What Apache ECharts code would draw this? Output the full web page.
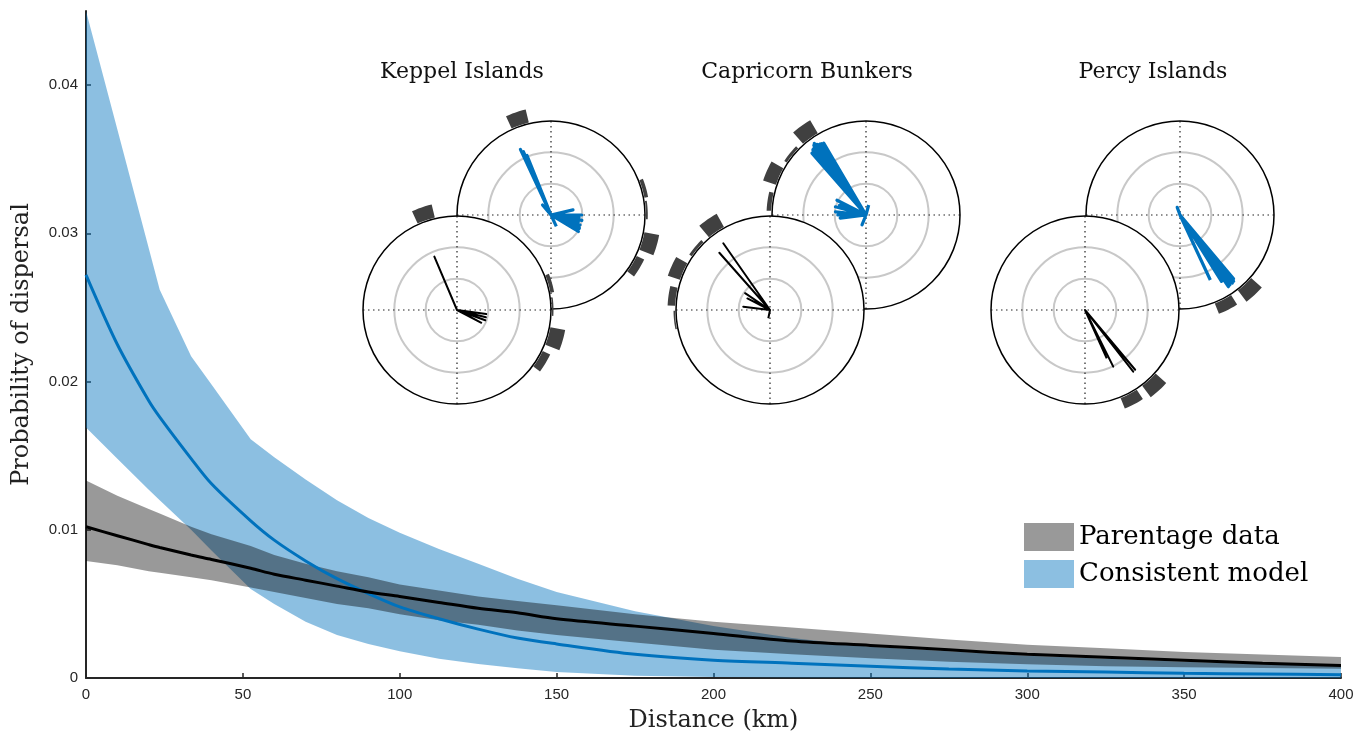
<!DOCTYPE html>
<html><head><meta charset="utf-8">
<script src="https://cdn.jsdelivr.net/npm/echarts@6/dist/echarts.min.js"></script>
<style>html,body{margin:0;padding:0;background:#fff}#c{width:1370px;height:738px}</style>
</head><body><div id="c"></div><script>
// ---------- main chart data (distance km -> probability) ----------
const distance      = [0, 10, 20, 23.5, 33.5, 40, 52.5, 60, 70, 80, 90, 100, 112.5, 125, 137.5, 150, 175, 200, 225, 250, 275, 300, 325, 350, 375, 400];
const parentUpper   = [0.01333, 0.0123, 0.0114, 0.0111, 0.0102, 0.0097, 0.0089, 0.0083, 0.0077, 0.0072, 0.0068, 0.0063, 0.0059, 0.0055, 0.0052, 0.0049, 0.0043, 0.0038, 0.0034, 0.0030, 0.0026, 0.00225, 0.0020, 0.00175, 0.00158, 0.00141];
const parentMean    = [0.0102, 0.0096, 0.0090, 0.0088, 0.0083, 0.0080, 0.0074, 0.0070, 0.0066, 0.0062, 0.0058, 0.0055, 0.0051, 0.0047, 0.0044, 0.0040, 0.0035, 0.0030, 0.0025, 0.0022, 0.0019, 0.0016, 0.0014, 0.0012, 0.0010, 0.00085];
const parentLower   = [0.0079, 0.0076, 0.0072, 0.0071, 0.0068, 0.0066, 0.0061, 0.0058, 0.0054, 0.0050, 0.0047, 0.0043, 0.0039, 0.0036, 0.0032, 0.0029, 0.0024, 0.0019, 0.0016, 0.00134, 0.0011, 0.00092, 0.0008, 0.00072, 0.00067, 0.00063];
const modelUpper    = [0.0450, 0.0370, 0.0290, 0.0262, 0.0217, 0.0198, 0.0161, 0.0149, 0.0134, 0.0120, 0.0108, 0.0098, 0.0087, 0.0077, 0.0067, 0.0058, 0.0045, 0.0035, 0.0027, 0.0021, 0.0018, 0.0015, 0.0013, 0.0011, 0.00092, 0.0008];
const modelMean     = [0.0272, 0.0225, 0.0187, 0.0176, 0.0148, 0.0131, 0.0106, 0.0093, 0.0079, 0.0067, 0.0057, 0.0048, 0.0040, 0.0033, 0.0027, 0.0023, 0.0016, 0.0012, 0.0010, 0.0008, 0.0006, 0.00048, 0.0004, 0.00032, 0.00027, 0.00022];
const modelLower    = [0.0169, 0.0148, 0.0127, 0.0120, 0.0100, 0.0086, 0.0060, 0.0050, 0.0038, 0.0029, 0.0023, 0.0018, 0.0013, 0.00095, 0.00065, 0.0004, 0.00015, 0.00006, 0.00003, 0.00001, 0, 0, 0, 0, 0, 0];
const xTickLabels   = ['0', '50', '100', '150', '200', '250', '300', '350', '400'];
const yTickLabels   = ['0', '0.01', '0.02', '0.03', '0.04'];
const legendNames   = ['Parentage data', 'Consistent model'];

// ---------- inset data ----------
const insetTitles = ['Keppel Islands', 'Capricorn Bunkers', 'Percy Islands'];
// rays: [compass angle deg, length] (length 3 = circle edge)
const keppelModelRays    = [[335, 2.31], [336.5, 2.2], [338, 2.05], [336, 1.8], [320, 0.42], [77, 0.72], [90, 0.98], [95, 0.9], [100, 1.0], [105, 0.9], [109, 0.98], [115, 1.0], [121, 1.02], [155, 0.4]];
const keppelDataRays     = [[337, 1.85], [98, 0.94], [104, 0.95], [110, 0.96], [118, 0.9]];
const capricornModelRays = [[318.8, 2.62], [319.5, 2.55], [320, 2.5], [320.5, 2.66], [321, 2.69], [321.8, 2.6], [322.5, 2.72], [323.2, 2.78], [324.2, 2.82], [324.8, 2.76], [325.5, 2.73], [326.3, 2.7], [327, 2.7], [328, 2.68], [329.5, 2.66], [263, 0.83], [270, 0.9], [276, 0.98], [285, 1.01], [290, 0.9], [297, 1.04], [202, 0.34], [15, 0.33]];
const capricornDataRays  = [[325, 2.6], [318.5, 2.44], [304, 0.96], [297, 0.81], [277, 0.86], [191.5, 0.27]];
const percyModelRays     = [[340, 0.26], [140, 2.66], [141, 2.72], [142, 2.7], [142.5, 2.74], [143.5, 2.7], [144.5, 2.74], [145.3, 2.7], [146, 2.76], [143, 2.6], [148, 2.5], [155, 2.29]];
const percyDataRays      = [[140, 2.49], [142, 2.5], [153.5, 2.02], [155.8, 1.69]];
// direction histogram bars outside the circle: [compass angle deg, relative height]
const keppelModelBars    = [[341, 0.9], [74, 0.25], [87, 0.12], [106, 1.0], [121, 0.55]];
const keppelDataBars     = [[341, 0.9], [74, 0.25], [88, 0.1], [106, 1.0], [121, 0.55]];
const capricornModelBars = [[324, 1.0], [309, 0.2], [294, 0.9], [278, 0.3]];
const capricornDataBars  = [[325.5, 1.0], [310, 0.2], [294, 0.85], [278, 0.5], [264, 0.1]];
const percyModelBars     = [[153, 0.75], [137, 0.95]];
const percyDataBars      = [[152.5, 0.75], [137.5, 0.95]];

// ---------- layout / style ----------
const BAR_SPAN = 11;           // angular width of histogram bars (deg)
const CIRCLE_R = 94;
const insets = [
  {center: [551, 215], rays: keppelModelRays, bars: keppelModelBars, color: '#0072BD', front: false},
  {center: [457, 310], rays: keppelDataRays, bars: keppelDataBars, color: '#000000', front: true},
  {center: [866, 215], rays: capricornModelRays, bars: capricornModelBars, color: '#0072BD', front: false},
  {center: [770, 310], rays: capricornDataRays, bars: capricornDataBars, color: '#000000', front: true},
  {center: [1180, 215], rays: percyModelRays, bars: percyModelBars, color: '#0072BD', front: false},
  {center: [1085, 310], rays: percyDataRays, bars: percyDataBars, color: '#000000', front: true}
];
const titlePos = [[457, 56], [802, 56], [1148, 56]];
const SERIF = 'DejaVu Serif';
const SANS = 'Liberation Sans';
const AX = '#262626';
const HIDE = {axisLine: {show: false}, axisTick: {show: false}, axisLabel: {show: false}, splitLine: {show: false}};

function bandRenderer(lower, upper) {
  return function (params, api) {
    if (params.dataIndex !== 0) return null;
    const pts = [];
    for (let i = 0; i < distance.length; i++) pts.push(api.coord([distance[i], upper[i]]));
    for (let i = distance.length - 1; i >= 0; i--) pts.push(api.coord([distance[i], lower[i]]));
    return {type: 'polygon', shape: {points: pts}, style: {fill: api.visual('color')}};
  };
}

const polar = [], angleAxis = [], radiusAxis = [], series = [];

// model band first, parentage band (translucent black) on top of it
series.push({
  type: 'custom', name: legendNames[1], coordinateSystem: 'cartesian2d', silent: true, z: 1,
  data: distance.map((d, i) => [d, modelLower[i], modelUpper[i]]),
  encode: {x: 0, y: [1, 2]},
  itemStyle: {color: 'rgba(0,114,189,0.45)'},
  renderItem: bandRenderer(modelLower, modelUpper)
});
series.push({
  type: 'custom', name: legendNames[0], coordinateSystem: 'cartesian2d', silent: true, z: 1,
  data: distance.map((d, i) => [d, parentLower[i], parentUpper[i]]),
  encode: {x: 0, y: [1, 2]},
  itemStyle: {color: 'rgba(0,0,0,0.4)'},
  renderItem: bandRenderer(parentLower, parentUpper)
});
series.push({
  type: 'line', data: distance.map((d, i) => [d, modelMean[i]]), symbol: 'none', smooth: 0.3, z: 2, silent: true,
  lineStyle: {color: '#0072BD', width: 3}
});
series.push({
  type: 'line', data: distance.map((d, i) => [d, parentMean[i]]), symbol: 'none', smooth: 0.3, z: 2, silent: true,
  lineStyle: {color: '#000', width: 3}
});

insets.forEach((ins) => {
  const zF = ins.front ? 7 : 3;   // white disc
  const zA = zF + 1;              // rings, crosshair, outline
  const zS = zF + 2;              // rays and bars
  // white background disc
  const pFill = polar.length;
  polar.push({center: ins.center, radius: CIRCLE_R});
  angleAxis.push(Object.assign({}, HIDE, {
    polarIndex: pFill, type: 'value', min: 0, max: 360, interval: 90, startAngle: 90, clockwise: true, z: zF,
    splitArea: {show: true, areaStyle: {color: ['#fff']}}
  }));
  radiusAxis.push(Object.assign({}, HIDE, {polarIndex: pFill, type: 'value', min: 0, max: 3, z: zF}));
  // rings, crosshair, outline
  const pMain = polar.length;
  polar.push({center: ins.center, radius: CIRCLE_R});
  angleAxis.push({
    polarIndex: pMain, type: 'value', min: 0, max: 360, interval: 90, startAngle: 90, clockwise: true, z: zA,
    axisLine: {show: true, lineStyle: {color: '#000', width: 1.5}},
    axisTick: {show: false}, axisLabel: {show: false},
    splitLine: {show: true, lineStyle: {color: '#222', width: 1.2, type: [1.5, 3.5]}}
  });
  radiusAxis.push({
    polarIndex: pMain, type: 'value', min: 0, max: 3, interval: 1, z: zA,
    axisLine: {show: false}, axisTick: {show: false}, axisLabel: {show: false},
    splitLine: {show: true, lineStyle: {color: ['rgba(0,0,0,0)', '#c8c8c8', '#c8c8c8', 'rgba(0,0,0,0)'], width: 2}}
  });
  // ring for histogram bars
  const pRing = polar.length;
  polar.push({center: ins.center, radius: [CIRCLE_R + 1, CIRCLE_R + 16]});
  angleAxis.push(Object.assign({}, HIDE, {polarIndex: pRing, type: 'value', min: 0, max: 360, startAngle: 90, clockwise: true, z: zA}));
  radiusAxis.push(Object.assign({}, HIDE, {polarIndex: pRing, type: 'value', min: 0, max: 1, z: zA}));

  const zig = [];
  ins.rays.forEach(r => { zig.push([0, r[0]]); zig.push([r[1], r[0]]); });
  series.push({
    type: 'line', coordinateSystem: 'polar', polarIndex: pMain, data: zig, symbol: 'none', z: zS, silent: true,
    lineStyle: {color: ins.color, width: ins.front ? 2 : 3.2, join: 'round'}
  });
  series.push({
    type: 'custom', coordinateSystem: 'polar', polarIndex: pRing, z: zS, silent: true,
    data: ins.bars.map(b => [b[1], b[0]]),
    renderItem: function (params, api) {
      const h = api.value(0), a = api.value(1);
      const pts = [];
      const n = 6;
      for (let j = 0; j <= n; j++) pts.push(api.coord([0, a - BAR_SPAN / 2 + BAR_SPAN * j / n]));
      for (let j = n; j >= 0; j--) pts.push(api.coord([h, a - BAR_SPAN / 2 + BAR_SPAN * j / n]));
      return {type: 'polygon', shape: {points: pts}, style: {fill: '#404040'}};
    }
  });
});

const option = {
  animation: false,
  backgroundColor: '#fff',
  title: insetTitles.map((t, i) => ({
    text: t, left: titlePos[i][0], top: titlePos[i][1], textAlign: 'center',
    textStyle: {fontFamily: SERIF, fontWeight: 'normal', fontSize: 22, color: '#111'}
  })),
  legend: {
    data: legendNames, orient: 'vertical', left: 1024, top: 523, padding: 0, itemWidth: 50, itemHeight: 28, itemGap: 9,
    icon: 'rect', selectedMode: false,
    textStyle: {fontFamily: SERIF, fontSize: 26, color: '#000'}
  },
  grid: {left: 86, right: 29, top: 11, bottom: 58},
  xAxis: {
    type: 'value', min: 0, max: 400, interval: 50,
    name: 'Distance (km)', nameLocation: 'middle', nameGap: 31,
    nameTextStyle: {fontFamily: SERIF, fontSize: 24, color: '#222'},
    axisLine: {lineStyle: {color: AX, width: 2}},
    axisTick: {inside: true, length: 5, lineStyle: {color: AX, width: 1.5}},
    axisLabel: {color: AX, fontFamily: SANS, fontSize: 15, margin: 9, formatter: (v) => xTickLabels[Math.round(v / 50)] ?? ''},
    splitLine: {show: false}
  },
  yAxis: {
    type: 'value', min: 0, max: 0.045, interval: 0.01,
    name: 'Probability of dispersal', nameLocation: 'middle', nameGap: 52,
    nameTextStyle: {fontFamily: SERIF, fontSize: 24, color: '#222'},
    axisLine: {lineStyle: {color: AX, width: 2}},
    axisTick: {inside: true, length: 5, lineStyle: {color: AX, width: 1.5}},
    axisLabel: {color: AX, fontFamily: SANS, fontSize: 15, margin: 8, showMaxLabel: false,
      formatter: (v) => { const i = Math.round(v / 0.01); return Math.abs(v - i * 0.01) < 1e-9 ? (yTickLabels[i] ?? '') : ''; }},
    splitLine: {show: false}
  },
  polar, angleAxis, radiusAxis, series
};
const chart = echarts.init(document.getElementById('c'), null, {renderer: 'canvas'});
chart.setOption(option);
</script></body></html>
